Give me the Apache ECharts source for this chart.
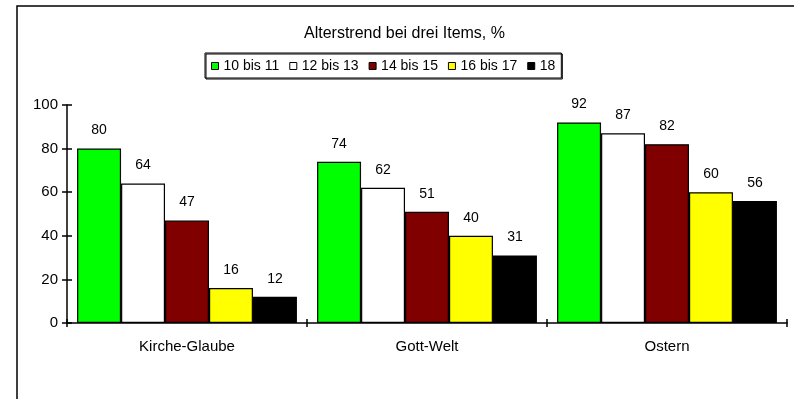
<!DOCTYPE html>
<html><head><meta charset="utf-8">
<script src="https://cdn.jsdelivr.net/npm/echarts@6/dist/echarts.min.js"></script>
<style>html,body{margin:0;padding:0;background:#fff}#c{width:794px;height:399px}</style>
</head><body><div id="c"></div>
<script>
const categories = ['Kirche-Glaube', 'Gott-Welt', 'Ostern'];
const seriesNames = ['10 bis 11', '12 bis 13', '14 bis 15', '16 bis 17', '18'];
const values_10_11 = [80, 74, 92];
const values_12_13 = [64, 62, 87];
const values_14_15 = [47, 51, 82];
const values_16_17 = [16, 40, 60];
const values_18 = [12, 31, 56];
const yTicks = [0, 20, 40, 60, 80, 100];
const colors = ['#00ff00', '#ffffff', '#800000', '#ffff00', '#000000'];
const allValues = [values_10_11, values_12_13, values_14_15, values_16_17, values_18];

const FONT = 'Liberation Sans, Arial, sans-serif';
const chart = echarts.init(document.getElementById('c'));
chart.setOption({
  animation: false,
  backgroundColor: '#fff',
  title: {
    text: 'Alterstrend bei drei Items, %',
    left: 304, top: 26, padding: 0,
    textStyle: {fontFamily: FONT, fontSize: 16, fontWeight: 'normal', color: '#000'}
  },
  legend: {
    top: 53, left: 205,
    data: seriesNames,
    icon: 'rect', itemWidth: 7, itemHeight: 7, itemGap: 10,
    padding: [6, 6, 5, 6],
    borderColor: '#000', borderWidth: 1,
    shadowColor: '#000', shadowOffsetX: 1, shadowOffsetY: 1,
    textStyle: {fontFamily: FONT, fontSize: 14, color: '#000'},
    itemStyle: {borderColor: '#000', borderWidth: 1}
  },
  grid: {left: 67, right: 7, top: 105, bottom: 76, containLabel: false},
  xAxis: [{
    type: 'category', data: categories,
    axisLine: {lineStyle: {color: '#000', width: 1.5}},
    axisTick: {show: true, length: 4, lineStyle: {color: '#000', width: 1.5}},
    axisLabel: {fontFamily: FONT, fontSize: 15, color: '#000', margin: 16}
  }, {
    type: 'category', data: categories, position: 'bottom',
    axisLine: {show: false},
    axisTick: {show: true, inside: true, length: 4, lineStyle: {color: '#000', width: 1.5}},
    axisLabel: {show: false}
  }],
  yAxis: [{
    type: 'value', min: 0, max: 100, interval: 20,
    axisLine: {show: true, lineStyle: {color: '#000', width: 1.5}},
    axisTick: {show: true, length: 5, lineStyle: {color: '#000', width: 1.5}},
    axisLabel: {fontFamily: FONT, fontSize: 15, color: '#000', margin: 9,
      formatter: v => yTicks.includes(v) ? String(v) : ''},
    splitLine: {show: false}
  }, {
    type: 'value', min: 0, max: 100, interval: 20, position: 'left',
    axisLine: {show: false},
    axisTick: {show: true, inside: true, length: 5, lineStyle: {color: '#000', width: 1.5}},
    axisLabel: {show: false}, splitLine: {show: false}
  }],
  graphic: [{
    type: 'rect', shape: {x: 17, y: 6, width: 800, height: 420},
    style: {fill: 'none', stroke: '#000', lineWidth: 1.5}, silent: true, z: -1
  }],
  series: seriesNames.map((name, i) => ({
    name, type: 'bar', data: allValues[i],
    barGap: '0%', barCategoryGap: '8.4%',
    itemStyle: {color: colors[i], borderColor: '#000', borderWidth: 1.2},
    label: {show: true, position: 'top', distance: 11, fontFamily: FONT, fontSize: 14, color: '#000'}
  }))
});
</script></body></html>
